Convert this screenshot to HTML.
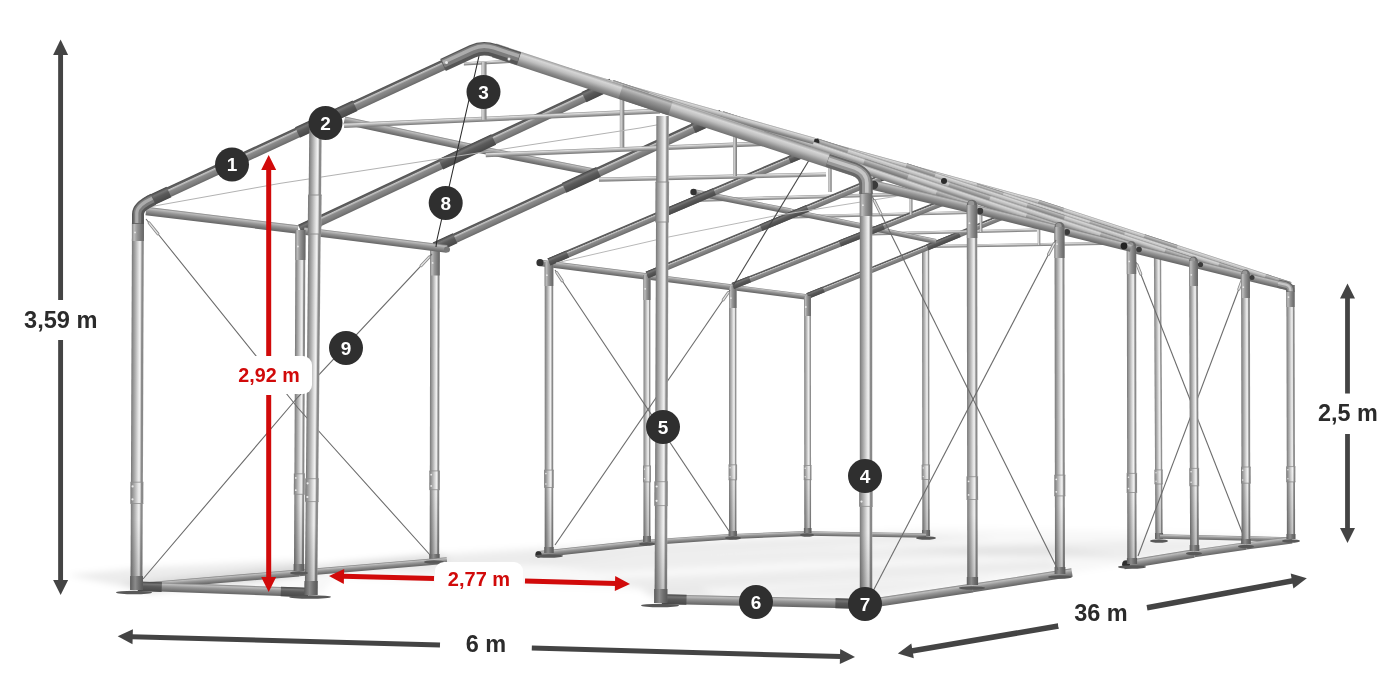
<!DOCTYPE html>
<html lang="pl"><head><meta charset="utf-8"><title>Wymiary hali namiotowej 6 m x 36 m</title>
<style>
html,body{margin:0;padding:0;background:#fff;}
body{width:1400px;height:700px;overflow:hidden;font-family:"Liberation Sans",Arial,sans-serif;}
svg{display:block}
svg text{font-family:"Liberation Sans",Arial,sans-serif;font-weight:700;}
</style></head><body>
<svg width="1400" height="700" viewBox="0 0 1400 700">
<defs>
<linearGradient id="g-post" x1="0" y1="0" x2="0" y2="1"><stop offset="0" stop-color="#767676"/><stop offset="0.12" stop-color="#8e8e8e"/><stop offset="0.35" stop-color="#b6b6b6"/><stop offset="0.55" stop-color="#dcdcdc"/><stop offset="0.68" stop-color="#f1f1f1"/><stop offset="0.76" stop-color="#d6d6d6"/><stop offset="0.84" stop-color="#8c8c8c"/><stop offset="0.94" stop-color="#888888"/><stop offset="1" stop-color="#a4a4a4"/></linearGradient>
<linearGradient id="g-postb" x1="0" y1="0" x2="0" y2="1"><stop offset="0" stop-color="#7e7e7e"/><stop offset="0.12" stop-color="#949494"/><stop offset="0.35" stop-color="#bababa"/><stop offset="0.55" stop-color="#dedede"/><stop offset="0.68" stop-color="#f2f2f2"/><stop offset="0.76" stop-color="#d8d8d8"/><stop offset="0.84" stop-color="#949494"/><stop offset="0.94" stop-color="#8e8e8e"/><stop offset="1" stop-color="#a8a8a8"/></linearGradient>
<linearGradient id="g-dark" x1="0" y1="0" x2="0" y2="1"><stop offset="0" stop-color="#505050"/><stop offset="0.2" stop-color="#646464"/><stop offset="0.28" stop-color="#c4c4c4"/><stop offset="0.37" stop-color="#b0b0b0"/><stop offset="0.46" stop-color="#8c8c8c"/><stop offset="0.8" stop-color="#7a7a7a"/><stop offset="1" stop-color="#686868"/></linearGradient>
<linearGradient id="g-mid" x1="0" y1="0" x2="0" y2="1"><stop offset="0" stop-color="#828282"/><stop offset="0.18" stop-color="#bcbcbc"/><stop offset="0.45" stop-color="#969696"/><stop offset="0.8" stop-color="#757575"/><stop offset="1" stop-color="#656565"/></linearGradient>
<linearGradient id="g-light" x1="0" y1="0" x2="0" y2="1"><stop offset="0" stop-color="#9a9a9a"/><stop offset="0.2" stop-color="#d6d6d6"/><stop offset="0.45" stop-color="#bebebe"/><stop offset="0.75" stop-color="#8e8e8e"/><stop offset="1" stop-color="#727272"/></linearGradient>
<linearGradient id="g-sleeve" x1="0" y1="0" x2="0" y2="1"><stop offset="0" stop-color="#444444"/><stop offset="0.25" stop-color="#747474"/><stop offset="0.5" stop-color="#5a5a5a"/><stop offset="1" stop-color="#484848"/></linearGradient>
<linearGradient id="g-foot" x1="0" y1="0" x2="0" y2="1"><stop offset="0" stop-color="#5c5c5c"/><stop offset="0.4" stop-color="#8c8c8c"/><stop offset="0.7" stop-color="#6e6e6e"/><stop offset="1" stop-color="#585858"/></linearGradient>
<linearGradient id="g-thin" x1="0" y1="0" x2="0" y2="1"><stop offset="0" stop-color="#929292"/><stop offset="0.25" stop-color="#dcdcdc"/><stop offset="0.55" stop-color="#b0b0b0"/><stop offset="0.85" stop-color="#868686"/><stop offset="1" stop-color="#787878"/></linearGradient>
<linearGradient id="g-shade" x1="0" y1="0" x2="1" y2="0"><stop offset="0" stop-color="#000" stop-opacity="0.2"/><stop offset="1" stop-color="#000" stop-opacity="0"/></linearGradient>
<filter id="blur" x="-5%" y="-20%" width="110%" height="140%"><feGaussianBlur stdDeviation="3"/></filter>
</defs>
<rect width="1400" height="700" fill="#fff"/>
<g id="frame">
<g filter="url(#blur)">
<polygon points="150,580 445,552 560,545 930,528 1170,532 1290,537 1075,572 870,603 665,603 640,590 335,578 320,596" fill="#000" opacity="0.028"/>
<polygon points="120,583 440,553 452,560 300,576 150,594" fill="#000" opacity="0.07"/>
<polygon points="68,575 140,568 300,560 300,576 150,592 120,586" fill="#000" opacity="0.075"/>
<polygon points="330,564 560,548 900,534 1000,538 640,556 420,573" fill="#000" opacity="0.05"/>
<polygon points="520,562 820,548 1050,546 1120,554 800,562 600,572" fill="#000" opacity="0.045"/>
<polygon points="600,580 900,566 1050,560 1060,570 900,578 660,592" fill="#000" opacity="0.05"/>
<polygon points="700,595 860,598 1000,577 900,580 800,586" fill="#000" opacity="0.04"/>
<polygon points="880,548 1150,540 1280,540 1130,560 1000,556" fill="#000" opacity="0.045"/>
<polygon points="640,590 700,588 720,598 660,602" fill="#000" opacity="0.05"/>
</g>
<rect x="0" y="-3.6" width="290" height="7.3" fill="url(#g-postb)" transform="translate(926,536) rotate(-90.08)"/>
<rect x="0" y="-4.2" width="14.5" height="8.3" fill="url(#g-postb)" transform="translate(925.9,479.5) rotate(-90.08)"/>
<line x1="921.8" y1="464.9" x2="930.1" y2="464.9" stroke="#8e8e8e" stroke-width="0.8" stroke-linecap="butt"/>
<line x1="921.8" y1="479.5" x2="930.1" y2="479.5" stroke="#8e8e8e" stroke-width="0.8" stroke-linecap="butt"/>
<circle cx="923.3" cy="467.9" r="0.7" fill="#e9e9e9"/>
<circle cx="923.3" cy="476.6" r="0.7" fill="#e9e9e9"/>
<rect x="0" y="-3.6" width="70" height="7.3" fill="url(#g-shade)" transform="translate(926,536) rotate(-90.08)"/>
<rect x="0" y="-4" width="6" height="8.1" fill="url(#g-foot)" transform="translate(926,536) rotate(-90.08)"/>
<rect x="0" y="-3.6" width="282" height="7.3" fill="url(#g-postb)" transform="translate(1159,539) rotate(-90.3)"/>
<rect x="0" y="-4.2" width="14.1" height="8.3" fill="url(#g-postb)" transform="translate(1158.7,484) rotate(-90.3)"/>
<line x1="1154.5" y1="469.9" x2="1162.8" y2="469.9" stroke="#8e8e8e" stroke-width="0.8" stroke-linecap="butt"/>
<line x1="1154.6" y1="484" x2="1162.9" y2="484" stroke="#8e8e8e" stroke-width="0.8" stroke-linecap="butt"/>
<circle cx="1156" cy="472.7" r="0.7" fill="#e9e9e9"/>
<circle cx="1156.1" cy="481.2" r="0.7" fill="#e9e9e9"/>
<rect x="0" y="-3.6" width="70" height="7.3" fill="url(#g-shade)" transform="translate(1159,539) rotate(-90.3)"/>
<rect x="0" y="-4" width="6" height="8.1" fill="url(#g-foot)" transform="translate(1159,539) rotate(-90.3)"/>
<rect x="0" y="-2.2" width="119" height="4.5" fill="url(#g-mid)" transform="translate(807,533.5) rotate(0.96)"/>
<rect x="0" y="-2.2" width="132" height="4.5" fill="url(#g-mid)" transform="translate(1160,536.5) rotate(1.3)"/>
<rect x="0" y="-1.5" width="205" height="3" fill="url(#g-thin)" transform="translate(925,246.5) rotate(-0.98)"/>
<rect x="0" y="-3" width="248.7" height="6" fill="url(#g-dark)" transform="translate(807.5,296) rotate(-22.08)"/>
<rect x="0" y="-3" width="17.4" height="6" fill="url(#g-sleeve)" transform="translate(807.5,296) rotate(-22.08)"/>
<rect x="0" y="-3" width="34.8" height="6" fill="url(#g-sleeve)" transform="translate(927.4,247.4) rotate(-22.08)"/>
<rect x="0" y="-3.2" width="110.7" height="6.4" fill="url(#g-mid)" transform="translate(537,554.5) rotate(-6.23)"/>
<circle cx="538.5" cy="554.3" r="3.1" fill="#2e2e2e"/>
<rect x="0" y="-2.8" width="86.2" height="5.6" fill="url(#g-mid)" transform="translate(647,542.5) rotate(-3.99)"/>
<rect x="0" y="-2.5" width="74.1" height="5" fill="url(#g-mid)" transform="translate(733,536.5) rotate(-2.32)"/>
<rect x="0" y="-3.2" width="106.9" height="6.5" fill="url(#g-mid)" transform="translate(541,263) rotate(7.26)"/>
<rect x="0" y="-3" width="86.7" height="6" fill="url(#g-mid)" transform="translate(647,276.5) rotate(7.29)"/>
<rect x="0" y="-2.8" width="74.6" height="5.5" fill="url(#g-mid)" transform="translate(733,287.5) rotate(7.32)"/>
<circle cx="540" cy="262.7" r="3.6" fill="#333"/>
<rect x="0" y="-1.7" width="207.1" height="3.4" fill="url(#g-thin)" transform="translate(700,200) rotate(-1.58)"/>
<rect x="0" y="-1.6" width="177.1" height="3.2" fill="url(#g-thin)" transform="translate(793,216.8) rotate(-1.39)"/>
<rect x="0" y="-1.5" width="169" height="3" fill="url(#g-thin)" transform="translate(868,234) rotate(-1.36)"/>
<rect x="0" y="-1.4" width="18" height="2.8" fill="url(#g-thin)" transform="translate(981,232) rotate(-90)"/>
<rect x="0" y="-1.3" width="16" height="2.6" fill="url(#g-thin)" transform="translate(1039,245) rotate(-90)"/>
<rect x="0" y="-3.4" width="237" height="6.8" fill="url(#g-postb)" transform="translate(807.7,533) rotate(-90.05)"/>
<rect x="0" y="-3.4" width="20" height="6.8" fill="url(#g-mid)" transform="translate(807.5,316) rotate(-90.05)"/>
<circle cx="805.8" cy="307" r="0.9" fill="#e9e9e9"/>
<rect x="0" y="-3.9" width="14.2" height="7.8" fill="url(#g-postb)" transform="translate(807.7,479.7) rotate(-90.05)"/>
<line x1="803.7" y1="465.5" x2="811.5" y2="465.5" stroke="#8e8e8e" stroke-width="0.8" stroke-linecap="butt"/>
<line x1="803.8" y1="479.7" x2="811.6" y2="479.7" stroke="#8e8e8e" stroke-width="0.8" stroke-linecap="butt"/>
<circle cx="805.2" cy="468.3" r="0.7" fill="#e9e9e9"/>
<circle cx="805.2" cy="476.8" r="0.7" fill="#e9e9e9"/>
<rect x="0" y="-3.4" width="70" height="6.8" fill="url(#g-shade)" transform="translate(807.7,533) rotate(-90.05)"/>
<rect x="0" y="-3.8" width="5" height="7.6" fill="url(#g-foot)" transform="translate(807.7,533) rotate(-90.05)"/>
<rect x="0" y="-3.8" width="250" height="7.5" fill="url(#g-postb)" transform="translate(732.8,536) rotate(-90)"/>
<rect x="0" y="-3.8" width="22" height="7.5" fill="url(#g-mid)" transform="translate(732.8,308) rotate(-90)"/>
<circle cx="730.9" cy="298.1" r="0.9" fill="#e9e9e9"/>
<rect x="0" y="-4.2" width="15" height="8.5" fill="url(#g-postb)" transform="translate(732.8,479.8) rotate(-90)"/>
<line x1="728.5" y1="464.8" x2="737" y2="464.8" stroke="#8e8e8e" stroke-width="0.8" stroke-linecap="butt"/>
<line x1="728.5" y1="479.8" x2="737" y2="479.8" stroke="#8e8e8e" stroke-width="0.8" stroke-linecap="butt"/>
<circle cx="730.1" cy="467.8" r="0.7" fill="#e9e9e9"/>
<circle cx="730.1" cy="476.8" r="0.7" fill="#e9e9e9"/>
<rect x="0" y="-3.8" width="70" height="7.5" fill="url(#g-shade)" transform="translate(732.8,536) rotate(-90)"/>
<rect x="0" y="-4.2" width="5" height="8.3" fill="url(#g-foot)" transform="translate(732.8,536) rotate(-90)"/>
<rect x="0" y="-3.5" width="267" height="7" fill="url(#g-postb)" transform="translate(647,542) rotate(-90)"/>
<rect x="0" y="-3.5" width="25" height="7" fill="url(#g-mid)" transform="translate(647,300) rotate(-90)"/>
<circle cx="645.2" cy="288.8" r="0.9" fill="#e9e9e9"/>
<rect x="0" y="-4" width="16" height="8" fill="url(#g-postb)" transform="translate(647,481.9) rotate(-90)"/>
<line x1="643" y1="465.9" x2="651" y2="465.9" stroke="#8e8e8e" stroke-width="0.8" stroke-linecap="butt"/>
<line x1="643" y1="481.9" x2="651" y2="481.9" stroke="#8e8e8e" stroke-width="0.8" stroke-linecap="butt"/>
<circle cx="644.5" cy="469.1" r="0.7" fill="#e9e9e9"/>
<circle cx="644.5" cy="478.7" r="0.7" fill="#e9e9e9"/>
<rect x="0" y="-3.5" width="70" height="7" fill="url(#g-shade)" transform="translate(647,542) rotate(-90)"/>
<rect x="0" y="-3.9" width="6" height="7.8" fill="url(#g-foot)" transform="translate(647,542) rotate(-90)"/>
<rect x="0" y="-4.3" width="291" height="8.6" fill="url(#g-post)" transform="translate(549,553) rotate(-90)"/>
<rect x="0" y="-4.3" width="24" height="8.6" fill="url(#g-mid)" transform="translate(549,286) rotate(-90)"/>
<circle cx="546.9" cy="275.2" r="0.9" fill="#e9e9e9"/>
<rect x="0" y="-4.8" width="17.5" height="9.6" fill="url(#g-post)" transform="translate(549,487.5) rotate(-90)"/>
<line x1="544.2" y1="470.1" x2="553.8" y2="470.1" stroke="#8e8e8e" stroke-width="0.8" stroke-linecap="butt"/>
<line x1="544.2" y1="487.5" x2="553.8" y2="487.5" stroke="#8e8e8e" stroke-width="0.8" stroke-linecap="butt"/>
<circle cx="545.9" cy="473.6" r="0.8" fill="#e9e9e9"/>
<circle cx="545.9" cy="484" r="0.8" fill="#e9e9e9"/>
<rect x="0" y="-4.3" width="70" height="8.6" fill="url(#g-shade)" transform="translate(549,553) rotate(-90)"/>
<rect x="0" y="-4.7" width="6" height="9.4" fill="url(#g-foot)" transform="translate(549,553) rotate(-90)"/>
<rect x="0" y="-3" width="99.9" height="6" fill="url(#g-mid)" transform="translate(693,192) rotate(11.25)"/>
<rect x="0" y="-2.8" width="76.6" height="5.5" fill="url(#g-mid)" transform="translate(791,211.5) rotate(11.68)"/>
<rect x="0" y="-2.5" width="71.5" height="5" fill="url(#g-mid)" transform="translate(866,227) rotate(11.7)"/>
<circle cx="693.5" cy="192" r="3.2" fill="#333"/>
<rect x="0" y="-3.2" width="261.6" height="6.5" fill="url(#g-dark)" transform="translate(732.8,286) rotate(-21.64)"/>
<rect x="0" y="-3.2" width="18.3" height="6.5" fill="url(#g-sleeve)" transform="translate(732.8,286) rotate(-21.64)"/>
<rect x="0" y="-3.2" width="47.1" height="6.5" fill="url(#g-sleeve)" transform="translate(839.8,243.5) rotate(-21.64)"/>
<rect x="0" y="-3.2" width="26.2" height="6.5" fill="url(#g-sleeve)" transform="translate(951.7,199.1) rotate(-21.64)"/>
<rect x="0" y="-3.5" width="280.4" height="7" fill="url(#g-dark)" transform="translate(647,275) rotate(-22.54)"/>
<rect x="0" y="-3.5" width="19.6" height="7" fill="url(#g-sleeve)" transform="translate(647,275) rotate(-22.54)"/>
<rect x="0" y="-3.5" width="50.5" height="7" fill="url(#g-sleeve)" transform="translate(761,227.7) rotate(-22.54)"/>
<rect x="0" y="-3.5" width="28" height="7" fill="url(#g-sleeve)" transform="translate(880.1,178.2) rotate(-22.54)"/>
<rect x="0" y="-3.8" width="290.1" height="7.5" fill="url(#g-dark)" transform="translate(549,262) rotate(-23.03)"/>
<rect x="0" y="-3.8" width="20.3" height="7.5" fill="url(#g-sleeve)" transform="translate(549,262) rotate(-23.03)"/>
<rect x="0" y="-3.8" width="52.2" height="7.5" fill="url(#g-sleeve)" transform="translate(666.5,212.1) rotate(-23.03)"/>
<rect x="0" y="-3.8" width="29" height="7.5" fill="url(#g-sleeve)" transform="translate(789.3,159.8) rotate(-23.03)"/>
<polyline points="555,270 729,531" fill="none" stroke="#6c6c6c" stroke-width="1.1"/>
<polyline points="730,290 555,545" fill="none" stroke="#6c6c6c" stroke-width="1.1"/>
<line x1="556.7" y1="272.5" x2="562.2" y2="280.8" stroke="#8a8a8a" stroke-width="3" stroke-linecap="round"/>
<line x1="556.7" y1="272.5" x2="562.2" y2="280.8" stroke="#e4e4e4" stroke-width="1.3" stroke-linecap="round"/>
<line x1="728.3" y1="292.5" x2="723.2" y2="299.9" stroke="#8a8a8a" stroke-width="3" stroke-linecap="round"/>
<line x1="728.3" y1="292.5" x2="723.2" y2="299.9" stroke="#e4e4e4" stroke-width="1.3" stroke-linecap="round"/>
<rect x="0" y="-4" width="134.1" height="8" fill="url(#g-mid)" transform="translate(344.3,120.4) rotate(12.18)"/>
<rect x="0" y="-3.7" width="125.9" height="7.4" fill="url(#g-mid)" transform="translate(475.4,148.7) rotate(11.18)"/>
<rect x="0" y="-4.9" width="316.1" height="9.8" fill="url(#g-dark)" transform="translate(435,247.5) rotate(-24.78)"/>
<rect x="0" y="-5.4" width="22.1" height="10.8" fill="url(#g-sleeve)" transform="translate(435,247.5) rotate(-24.78)"/>
<rect x="0" y="-5.4" width="37.9" height="10.8" fill="url(#g-sleeve)" transform="translate(564.1,187.9) rotate(-24.78)"/>
<rect x="0" y="-5.4" width="31.6" height="10.8" fill="url(#g-sleeve)" transform="translate(693.3,128.2) rotate(-24.78)"/>
<rect x="0" y="-4.8" width="312.5" height="9.5" fill="url(#g-post)" transform="translate(434.5,560) rotate(-89.91)"/>
<rect x="0" y="-4.8" width="28" height="9.5" fill="url(#g-mid)" transform="translate(435,275.5) rotate(-89.91)"/>
<circle cx="432.6" cy="262.9" r="0.9" fill="#e9e9e9"/>
<rect x="0" y="-5.2" width="18.8" height="10.5" fill="url(#g-post)" transform="translate(434.6,489.7) rotate(-89.91)"/>
<line x1="429.4" y1="470.9" x2="439.9" y2="470.9" stroke="#8e8e8e" stroke-width="0.8" stroke-linecap="butt"/>
<line x1="429.4" y1="489.7" x2="439.9" y2="489.7" stroke="#8e8e8e" stroke-width="0.8" stroke-linecap="butt"/>
<circle cx="431.2" cy="474.7" r="0.9" fill="#e9e9e9"/>
<circle cx="431.2" cy="485.9" r="0.9" fill="#e9e9e9"/>
<rect x="0" y="-4.8" width="70" height="9.5" fill="url(#g-shade)" transform="translate(434.5,560) rotate(-89.91)"/>
<rect x="0" y="-5.2" width="6" height="10.3" fill="url(#g-foot)" transform="translate(434.5,560) rotate(-89.91)"/>
<rect x="0" y="-5.2" width="344" height="10.4" fill="url(#g-dark)" transform="translate(300.5,230) rotate(-25.11)"/>
<rect x="0" y="-5.7" width="20.6" height="11.4" fill="url(#g-sleeve)" transform="translate(300.5,230) rotate(-25.11)"/>
<rect x="0" y="-5.7" width="58.5" height="11.4" fill="url(#g-sleeve)" transform="translate(440.7,164.3) rotate(-25.11)"/>
<rect x="0" y="-5.7" width="31" height="11.4" fill="url(#g-sleeve)" transform="translate(584,97.1) rotate(-25.11)"/>
<rect x="0" y="-4.2" width="153.1" height="8.4" fill="url(#g-mid)" transform="translate(146,211) rotate(6.94)"/>
<rect x="0" y="-3.9" width="144.1" height="7.8" fill="url(#g-mid)" transform="translate(304,231) rotate(7.17)"/>
<circle cx="447" cy="249.5" r="3" fill="#777"/>
<rect x="0" y="-3.5" width="161.6" height="7" fill="url(#g-mid)" transform="translate(138,586.5) rotate(-4.79)"/>
<rect x="0" y="-3.2" width="148.5" height="6.5" fill="url(#g-mid)" transform="translate(299,573) rotate(-4.83)"/>
<rect x="0" y="-5" width="341" height="10" fill="url(#g-post)" transform="translate(299,571) rotate(-89.75)"/>
<rect x="0" y="-5" width="30" height="10" fill="url(#g-mid)" transform="translate(300.4,260) rotate(-89.75)"/>
<circle cx="297.9" cy="246.5" r="0.9" fill="#e9e9e9"/>
<rect x="0" y="-5.5" width="20.5" height="11" fill="url(#g-post)" transform="translate(299.3,494.3) rotate(-89.75)"/>
<line x1="293.9" y1="473.8" x2="304.9" y2="473.8" stroke="#8e8e8e" stroke-width="0.8" stroke-linecap="butt"/>
<line x1="293.8" y1="494.3" x2="304.8" y2="494.3" stroke="#8e8e8e" stroke-width="0.8" stroke-linecap="butt"/>
<circle cx="295.8" cy="477.9" r="0.9" fill="#e9e9e9"/>
<circle cx="295.8" cy="490.2" r="0.9" fill="#e9e9e9"/>
<rect x="0" y="-5" width="70" height="10" fill="url(#g-shade)" transform="translate(299,571) rotate(-89.75)"/>
<rect x="0" y="-5.4" width="7" height="10.8" fill="url(#g-foot)" transform="translate(299,571) rotate(-89.75)"/>
<polyline points="146,219 298,408 431,556" fill="none" stroke="#6c6c6c" stroke-width="1.1"/>
<polyline points="432,254 298,397 143,579" fill="none" stroke="#6c6c6c" stroke-width="1.1"/>
<line x1="149.1" y1="222.9" x2="157.9" y2="233.8" stroke="#8a8a8a" stroke-width="3" stroke-linecap="round"/>
<line x1="149.1" y1="222.9" x2="157.9" y2="233.8" stroke="#e4e4e4" stroke-width="1.3" stroke-linecap="round"/>
<line x1="429.3" y1="256.9" x2="421.1" y2="265.7" stroke="#8a8a8a" stroke-width="3" stroke-linecap="round"/>
<line x1="429.3" y1="256.9" x2="421.1" y2="265.7" stroke="#e4e4e4" stroke-width="1.3" stroke-linecap="round"/>
<rect x="0" y="-2.5" width="316.3" height="5" fill="url(#g-thin)" transform="translate(344,125.6) rotate(-2.65)"/>
<rect x="0" y="-2.3" width="304.6" height="4.6" fill="url(#g-thin)" transform="translate(485.7,155) rotate(-2.35)"/>
<rect x="0" y="-2.1" width="227.2" height="4.2" fill="url(#g-thin)" transform="translate(598.9,179.6) rotate(-1.29)"/>
<rect x="0" y="-1.6" width="46.3" height="3.2" fill="url(#g-thin)" transform="translate(463.8,63.8) rotate(-3.09)"/>
<rect x="0" y="-2.5" width="57.7" height="5" fill="url(#g-thin)" transform="translate(484,119.7) rotate(-90)"/>
<rect x="0" y="-2.2" width="49.4" height="4.5" fill="url(#g-thin)" transform="translate(622,147.4) rotate(-90)"/>
<rect x="0" y="-2" width="44" height="4" fill="url(#g-thin)" transform="translate(735,176) rotate(-90)"/>
<rect x="0" y="-1.8" width="32" height="3.5" fill="url(#g-thin)" transform="translate(830,192) rotate(-90)"/>
<rect x="0" y="-1.5" width="32" height="3" fill="url(#g-thin)" transform="translate(911,215) rotate(-90)"/>
<polyline points="146,207.5 280,183.4 640,128 662,124" fill="none" stroke="#b2b2b2" stroke-width="1"/>
<polyline points="556,263 668.6,237 775.7,215.7 895.7,196.4" fill="none" stroke="#b8b8b8" stroke-width="1"/>
<polyline points="479,56 436.9,240 436,247" fill="none" stroke="#2c2c2c" stroke-width="1.1"/>
<polyline points="814,152 733.5,285" fill="none" stroke="#4a4a4a" stroke-width="1.1"/>
<rect x="0" y="-4.2" width="70.9" height="8.4" fill="url(#g-mid)" transform="translate(1124,565) rotate(-9.33)"/>
<rect x="0" y="-3.9" width="52.5" height="7.8" fill="url(#g-mid)" transform="translate(1194,553.5) rotate(-8.21)"/>
<rect x="0" y="-3.6" width="46.4" height="7.2" fill="url(#g-mid)" transform="translate(1246,546) rotate(-7.43)"/>
<circle cx="1126" cy="564.3" r="3.9" fill="#2e2e2e"/>
<polyline points="1136,262 1246,542" fill="none" stroke="#6c6c6c" stroke-width="1.1"/>
<polyline points="1243,278 1138,556" fill="none" stroke="#6c6c6c" stroke-width="1.1"/>
<line x1="1137.1" y1="264.8" x2="1140.8" y2="274.1" stroke="#8a8a8a" stroke-width="3" stroke-linecap="round"/>
<line x1="1137.1" y1="264.8" x2="1140.8" y2="274.1" stroke="#e4e4e4" stroke-width="1.3" stroke-linecap="round"/>
<line x1="1241.9" y1="280.8" x2="1238.8" y2="289.2" stroke="#8a8a8a" stroke-width="3" stroke-linecap="round"/>
<line x1="1241.9" y1="280.8" x2="1238.8" y2="289.2" stroke="#e4e4e4" stroke-width="1.3" stroke-linecap="round"/>
<rect x="0" y="-3" width="265.6" height="6" fill="url(#g-light)" transform="translate(1038,202.5) rotate(18.09)"/>
<rect x="0" y="-3" width="26.6" height="6" fill="url(#g-mid)" transform="translate(1038,202.5) rotate(18.09)"/>
<rect x="0" y="-3" width="34.5" height="6" fill="url(#g-mid)" transform="translate(1144,237.2) rotate(18.09)"/>
<rect x="0" y="-3" width="26.6" height="6" fill="url(#g-mid)" transform="translate(1265.2,276.8) rotate(18.09)"/>
<rect x="0" y="-3" width="230.1" height="6" fill="url(#g-light)" transform="translate(816,142) rotate(15.24)"/>
<rect x="0" y="-3.2" width="283.3" height="6.5" fill="url(#g-light)" transform="translate(976,186.5) rotate(17.99)"/>
<rect x="0" y="-3.2" width="28.3" height="6.5" fill="url(#g-mid)" transform="translate(976,186.5) rotate(17.99)"/>
<rect x="0" y="-3.2" width="36.8" height="6.5" fill="url(#g-mid)" transform="translate(1089.2,223.2) rotate(17.99)"/>
<rect x="0" y="-3.2" width="28.3" height="6.5" fill="url(#g-mid)" transform="translate(1218.5,265.2) rotate(17.99)"/>
<rect x="0" y="-3.5" width="302.6" height="7" fill="url(#g-light)" transform="translate(906,166.5) rotate(18.2)"/>
<rect x="0" y="-3.5" width="30.3" height="7" fill="url(#g-mid)" transform="translate(906,166.5) rotate(18.2)"/>
<rect x="0" y="-3.5" width="39.3" height="7" fill="url(#g-mid)" transform="translate(1026.8,206.2) rotate(18.2)"/>
<rect x="0" y="-3.5" width="30.3" height="7" fill="url(#g-mid)" transform="translate(1164.8,251.6) rotate(18.2)"/>
<rect x="0" y="-4" width="332.2" height="8" fill="url(#g-light)" transform="translate(816,142) rotate(18.24)"/>
<rect x="0" y="-4" width="33.2" height="8" fill="url(#g-mid)" transform="translate(816,142) rotate(18.24)"/>
<rect x="0" y="-4" width="43.2" height="8" fill="url(#g-mid)" transform="translate(948.5,185.7) rotate(18.24)"/>
<rect x="0" y="-4" width="33.2" height="8" fill="url(#g-mid)" transform="translate(1100,235.6) rotate(18.24)"/>
<circle cx="816" cy="142" r="3.4" fill="#2b2b2b"/>
<circle cx="944" cy="181" r="3" fill="#2b2b2b"/>
<rect x="0" y="-4.2" width="62.8" height="8.4" fill="url(#g-mid)" transform="translate(1131.5,248.5) rotate(13.82)"/>
<rect x="0" y="-3.9" width="54.1" height="7.8" fill="url(#g-mid)" transform="translate(1192.5,263.5) rotate(13.91)"/>
<rect x="0" y="-3.7" width="45.2" height="7.4" fill="url(#g-mid)" transform="translate(1245,276.5) rotate(13.42)"/>
<rect x="0" y="-4.1" width="254" height="8.2" fill="url(#g-post)" transform="translate(1291,539) rotate(-90.11)"/>
<rect x="0" y="-4.1" width="22" height="8.2" fill="url(#g-mid)" transform="translate(1290.5,307) rotate(-90.11)"/>
<circle cx="1288.5" cy="297.1" r="0.9" fill="#e9e9e9"/>
<rect x="0" y="-4.6" width="15.2" height="9.2" fill="url(#g-post)" transform="translate(1290.9,481.9) rotate(-90.11)"/>
<line x1="1286.3" y1="466.6" x2="1295.5" y2="466.6" stroke="#8e8e8e" stroke-width="0.8" stroke-linecap="butt"/>
<line x1="1286.3" y1="481.9" x2="1295.5" y2="481.9" stroke="#8e8e8e" stroke-width="0.8" stroke-linecap="butt"/>
<circle cx="1287.9" cy="469.7" r="0.7" fill="#e9e9e9"/>
<circle cx="1287.9" cy="478.8" r="0.7" fill="#e9e9e9"/>
<rect x="0" y="-4.1" width="70" height="8.2" fill="url(#g-shade)" transform="translate(1291,539) rotate(-90.11)"/>
<rect x="0" y="-4.5" width="5" height="9" fill="url(#g-foot)" transform="translate(1291,539) rotate(-90.11)"/>
<rect x="0" y="-4.4" width="270" height="8.8" fill="url(#g-post)" transform="translate(1246,544) rotate(-90.11)"/>
<circle cx="1245.5" cy="274" r="4.4" fill="#686868"/>
<circle cx="1244.8" cy="273.1" r="2.6" fill="#979797"/>
<rect x="0" y="-4.4" width="24" height="8.8" fill="url(#g-mid)" transform="translate(1245.5,298) rotate(-90.11)"/>
<circle cx="1243.3" cy="287.2" r="0.9" fill="#e9e9e9"/>
<rect x="0" y="-4.9" width="16.2" height="9.8" fill="url(#g-post)" transform="translate(1245.9,483.2) rotate(-90.11)"/>
<line x1="1241" y1="467" x2="1250.8" y2="467" stroke="#8e8e8e" stroke-width="0.8" stroke-linecap="butt"/>
<line x1="1241" y1="483.2" x2="1250.8" y2="483.2" stroke="#8e8e8e" stroke-width="0.8" stroke-linecap="butt"/>
<circle cx="1242.7" cy="470.3" r="0.8" fill="#e9e9e9"/>
<circle cx="1242.7" cy="480" r="0.8" fill="#e9e9e9"/>
<rect x="0" y="-4.4" width="70" height="8.8" fill="url(#g-shade)" transform="translate(1246,544) rotate(-90.11)"/>
<rect x="0" y="-4.8" width="5" height="9.6" fill="url(#g-foot)" transform="translate(1246,544) rotate(-90.11)"/>
<rect x="0" y="-4.4" width="290" height="8.8" fill="url(#g-post)" transform="translate(1194.5,551) rotate(-90.2)"/>
<circle cx="1193.5" cy="261" r="4.4" fill="#686868"/>
<circle cx="1192.8" cy="260.1" r="2.6" fill="#979797"/>
<rect x="0" y="-4.4" width="25" height="8.8" fill="url(#g-mid)" transform="translate(1193.6,286) rotate(-90.2)"/>
<circle cx="1191.3" cy="274.8" r="0.9" fill="#e9e9e9"/>
<rect x="0" y="-4.9" width="17.4" height="9.8" fill="url(#g-post)" transform="translate(1194.3,485.8) rotate(-90.2)"/>
<line x1="1189.3" y1="468.4" x2="1199.1" y2="468.4" stroke="#8e8e8e" stroke-width="0.8" stroke-linecap="butt"/>
<line x1="1189.4" y1="485.8" x2="1199.2" y2="485.8" stroke="#8e8e8e" stroke-width="0.8" stroke-linecap="butt"/>
<circle cx="1191.1" cy="471.8" r="0.8" fill="#e9e9e9"/>
<circle cx="1191.1" cy="482.3" r="0.8" fill="#e9e9e9"/>
<rect x="0" y="-4.4" width="70" height="8.8" fill="url(#g-shade)" transform="translate(1194.5,551) rotate(-90.2)"/>
<rect x="0" y="-4.8" width="6" height="9.6" fill="url(#g-foot)" transform="translate(1194.5,551) rotate(-90.2)"/>
<rect x="0" y="-4.7" width="318" height="9.4" fill="url(#g-post)" transform="translate(1132,564) rotate(-90.09)"/>
<circle cx="1131.5" cy="246" r="4.7" fill="#686868"/>
<circle cx="1130.7" cy="245.1" r="2.8" fill="#979797"/>
<rect x="0" y="-4.7" width="28" height="9.4" fill="url(#g-mid)" transform="translate(1131.5,274) rotate(-90.09)"/>
<circle cx="1129.2" cy="261.4" r="0.9" fill="#e9e9e9"/>
<rect x="0" y="-5.2" width="19.1" height="10.4" fill="url(#g-post)" transform="translate(1131.9,492.5) rotate(-90.09)"/>
<line x1="1126.7" y1="473.4" x2="1137.1" y2="473.4" stroke="#8e8e8e" stroke-width="0.8" stroke-linecap="butt"/>
<line x1="1126.7" y1="492.5" x2="1137.1" y2="492.5" stroke="#8e8e8e" stroke-width="0.8" stroke-linecap="butt"/>
<circle cx="1128.5" cy="477.2" r="0.8" fill="#e9e9e9"/>
<circle cx="1128.5" cy="488.6" r="0.8" fill="#e9e9e9"/>
<rect x="0" y="-4.7" width="70" height="9.4" fill="url(#g-shade)" transform="translate(1132,564) rotate(-90.09)"/>
<rect x="0" y="-5.1" width="6" height="10.2" fill="url(#g-foot)" transform="translate(1132,564) rotate(-90.09)"/>
<circle cx="1139" cy="249.5" r="2.8" fill="#3a3a3a"/>
<circle cx="1200.5" cy="264.5" r="2.6" fill="#3a3a3a"/>
<circle cx="1252" cy="277.5" r="2.5" fill="#3a3a3a"/>
<path d="M1278,283.6 L1286,285.4 Q1290.5,286.6 1290.5,292" fill="none" stroke="#686868" stroke-width="8.4" stroke-linecap="butt" stroke-linejoin="round"/>
<path d="M1278,283.6 L1286,285.4 Q1290.5,286.6 1290.5,292" fill="none" stroke="#979797" stroke-width="5.4" stroke-linecap="butt" stroke-linejoin="round" transform="translate(0,-0.4)"/>
<path d="M1278,283.6 L1286,285.4 Q1290.5,286.6 1290.5,292" fill="none" stroke="#c6c6c6" stroke-width="2.3" stroke-linecap="butt" stroke-linejoin="round" transform="translate(0,-0.8)"/>
<rect x="0" y="-4" width="355.9" height="8" fill="url(#g-light)" transform="translate(722,115) rotate(18.51)"/>
<rect x="0" y="-4" width="35.6" height="8" fill="url(#g-mid)" transform="translate(722,115) rotate(18.51)"/>
<rect x="0" y="-4" width="46.3" height="8" fill="url(#g-mid)" transform="translate(863.8,162.5) rotate(18.51)"/>
<rect x="0" y="-4" width="35.6" height="8" fill="url(#g-mid)" transform="translate(1025.8,216.7) rotate(18.51)"/>
<rect x="0" y="-3.5" width="134.7" height="7" fill="url(#g-light)" transform="translate(482.6,46.6) rotate(16.12)"/>
<rect x="0" y="-3.5" width="114.3" height="7" fill="url(#g-light)" transform="translate(612,84) rotate(15.74)"/>
<rect x="0" y="-3.5" width="95.6" height="7" fill="url(#g-light)" transform="translate(722,115) rotate(15.78)"/>
<rect x="0" y="-4.2" width="380.1" height="8.5" fill="url(#g-light)" transform="translate(612,84) rotate(18.72)"/>
<rect x="0" y="-4.2" width="38" height="8.5" fill="url(#g-mid)" transform="translate(612,84) rotate(18.72)"/>
<rect x="0" y="-4.2" width="49.4" height="8.5" fill="url(#g-mid)" transform="translate(763.2,135.2) rotate(18.72)"/>
<rect x="0" y="-4.2" width="38" height="8.5" fill="url(#g-mid)" transform="translate(936,193.8) rotate(18.72)"/>
<rect x="0" y="-5" width="101.8" height="10" fill="url(#g-mid)" transform="translate(873,185) rotate(13.35)"/>
<rect x="0" y="-4.5" width="90.1" height="9" fill="url(#g-mid)" transform="translate(972,208.5) rotate(13.8)"/>
<rect x="0" y="-4" width="73.7" height="8" fill="url(#g-mid)" transform="translate(1059.5,230) rotate(14.13)"/>
<circle cx="874" cy="185" r="4.2" fill="#3a3a3a"/>
<circle cx="980" cy="211" r="3.2" fill="#3a3a3a"/>
<circle cx="1067" cy="232" r="3" fill="#3a3a3a"/>
<circle cx="1124" cy="246" r="3.4" fill="#222"/>
<rect x="0" y="-4.5" width="107.7" height="9" fill="url(#g-mid)" transform="translate(866,604) rotate(-8.54)"/>
<rect x="0" y="-4.2" width="100.7" height="8.5" fill="url(#g-mid)" transform="translate(972.5,588) rotate(-8.85)"/>
<rect x="0" y="-5" width="347" height="10" fill="url(#g-post)" transform="translate(1060,574) rotate(-90.08)"/>
<circle cx="1059.5" cy="227" r="5" fill="#686868"/>
<circle cx="1058.7" cy="226" r="3" fill="#979797"/>
<rect x="0" y="-5" width="31" height="10" fill="url(#g-mid)" transform="translate(1059.5,258) rotate(-90.08)"/>
<circle cx="1057" cy="244.1" r="0.9" fill="#e9e9e9"/>
<rect x="0" y="-5.5" width="20.8" height="11" fill="url(#g-post)" transform="translate(1059.9,495.9) rotate(-90.08)"/>
<line x1="1054.4" y1="475.1" x2="1065.4" y2="475.1" stroke="#8e8e8e" stroke-width="0.8" stroke-linecap="butt"/>
<line x1="1054.4" y1="495.9" x2="1065.4" y2="495.9" stroke="#8e8e8e" stroke-width="0.8" stroke-linecap="butt"/>
<circle cx="1056.3" cy="479.3" r="0.9" fill="#e9e9e9"/>
<circle cx="1056.3" cy="491.8" r="0.9" fill="#e9e9e9"/>
<rect x="0" y="-5" width="70" height="10" fill="url(#g-shade)" transform="translate(1060,574) rotate(-90.08)"/>
<rect x="0" y="-5.4" width="7" height="10.8" fill="url(#g-foot)" transform="translate(1060,574) rotate(-90.08)"/>
<rect x="0" y="-5.2" width="380" height="10.5" fill="url(#g-post)" transform="translate(972.5,585) rotate(-90.08)"/>
<circle cx="972" cy="205" r="5.2" fill="#686868"/>
<circle cx="971.2" cy="203.9" r="3.1" fill="#979797"/>
<rect x="0" y="-5.2" width="33" height="10.5" fill="url(#g-mid)" transform="translate(972,238) rotate(-90.08)"/>
<circle cx="969.4" cy="223.2" r="0.9" fill="#e9e9e9"/>
<rect x="0" y="-5.8" width="22.8" height="11.5" fill="url(#g-post)" transform="translate(972.4,499.5) rotate(-90.08)"/>
<line x1="966.6" y1="476.7" x2="978.1" y2="476.7" stroke="#8e8e8e" stroke-width="0.8" stroke-linecap="butt"/>
<line x1="966.6" y1="499.5" x2="978.1" y2="499.5" stroke="#8e8e8e" stroke-width="0.8" stroke-linecap="butt"/>
<circle cx="968.6" cy="481.3" r="0.9" fill="#e9e9e9"/>
<circle cx="968.6" cy="494.9" r="0.9" fill="#e9e9e9"/>
<rect x="0" y="-5.2" width="70" height="10.5" fill="url(#g-shade)" transform="translate(972.5,585) rotate(-90.08)"/>
<rect x="0" y="-5.7" width="8" height="11.3" fill="url(#g-foot)" transform="translate(972.5,585) rotate(-90.08)"/>
<polyline points="872,196 1058,570" fill="none" stroke="#6c6c6c" stroke-width="1.1"/>
<polyline points="1056,240 870,597" fill="none" stroke="#6c6c6c" stroke-width="1.1"/>
<line x1="874.2" y1="200.5" x2="880.9" y2="213.9" stroke="#8a8a8a" stroke-width="3" stroke-linecap="round"/>
<line x1="874.2" y1="200.5" x2="880.9" y2="213.9" stroke="#e4e4e4" stroke-width="1.3" stroke-linecap="round"/>
<line x1="1054.2" y1="243.5" x2="1048.6" y2="254.2" stroke="#8a8a8a" stroke-width="3" stroke-linecap="round"/>
<line x1="1054.2" y1="243.5" x2="1048.6" y2="254.2" stroke="#e4e4e4" stroke-width="1.3" stroke-linecap="round"/>
<rect x="0" y="-5.2" width="362.8" height="10.5" fill="url(#g-dark)" transform="translate(144.9,203.3) rotate(-24.89)"/>
<rect x="0" y="-5.8" width="22.8" height="11.5" fill="url(#g-sleeve)" transform="translate(148.3,201.7) rotate(-24.89)"/>
<rect x="0" y="-5.8" width="63.4" height="11.5" fill="url(#g-sleeve)" transform="translate(297.5,132.5) rotate(-24.89)"/>
<rect x="0" y="-7.2" width="381.5" height="14.3" fill="url(#g-light)" transform="translate(494.1,50.4) rotate(18.25)"/>
<rect x="0" y="-7.2" width="52.5" height="14.3" fill="url(#g-mid)" transform="translate(620.6,92.1) rotate(18.25)"/>
<path d="M443,65 L472.3,51.4 Q482.6,46.6 494.1,50.4 L519,58.6" fill="none" stroke="#565656" stroke-width="13.4" stroke-linecap="butt" stroke-linejoin="round"/>
<path d="M443,65 L472.3,51.4 Q482.6,46.6 494.1,50.4 L519,58.6" fill="none" stroke="#7c7c7c" stroke-width="8.6" stroke-linecap="butt" stroke-linejoin="round" transform="translate(0,-1.3)"/>
<path d="M443,65 L472.3,51.4 Q482.6,46.6 494.1,50.4 L519,58.6" fill="none" stroke="#acacac" stroke-width="3.6" stroke-linecap="butt" stroke-linejoin="round" transform="translate(0,-2.6)"/>
<circle cx="446.5" cy="62.5" r="1.5" fill="#e9e9e9"/>
<circle cx="509" cy="59" r="1.5" fill="#e9e9e9"/>
<rect x="0" y="-4.5" width="170.1" height="9" fill="url(#g-mid)" transform="translate(138,586.2) rotate(2.12)"/>
<rect x="0" y="-4.8" width="204.1" height="9.5" fill="url(#g-mid)" transform="translate(662,599.2) rotate(1.35)"/>
<rect x="0" y="-4.8" width="23.8" height="9.6" fill="url(#g-sleeve)" transform="translate(138,586.2) rotate(2.12)"/>
<rect x="0" y="-4.8" width="27.2" height="9.6" fill="url(#g-sleeve)" transform="translate(280.8,591.5) rotate(2.12)"/>
<rect x="0" y="-5" width="24.5" height="10" fill="url(#g-sleeve)" transform="translate(662,599.2) rotate(1.35)"/>
<rect x="0" y="-5" width="30.6" height="10" fill="url(#g-sleeve)" transform="translate(835.4,603.3) rotate(1.35)"/>
<rect x="0" y="-6.2" width="467" height="12.5" fill="url(#g-post)" transform="translate(311,595) rotate(-89.45)"/>
<rect x="0" y="-6.8" width="22.9" height="13.5" fill="url(#g-post)" transform="translate(311.9,501.6) rotate(-89.45)"/>
<line x1="305.4" y1="478.7" x2="318.9" y2="478.7" stroke="#8e8e8e" stroke-width="0.8" stroke-linecap="butt"/>
<line x1="305.1" y1="501.6" x2="318.6" y2="501.6" stroke="#8e8e8e" stroke-width="0.8" stroke-linecap="butt"/>
<circle cx="307.6" cy="483.3" r="1.1" fill="#e9e9e9"/>
<circle cx="307.4" cy="497" r="1.1" fill="#e9e9e9"/>
<rect x="0" y="-6.2" width="70" height="12.5" fill="url(#g-shade)" transform="translate(311,595) rotate(-89.45)"/>
<rect x="0" y="-6.7" width="14" height="13.3" fill="url(#g-foot)" transform="translate(311,595) rotate(-89.45)"/>
<rect x="0" y="-6.8" width="39" height="13.6" fill="url(#g-post)" transform="translate(314.5,234) rotate(-89.41)"/>
<line x1="308" y1="195" x2="321.8" y2="195" stroke="#8a8a8a" stroke-width="0.9" stroke-linecap="butt"/>
<line x1="307.6" y1="234" x2="321.4" y2="234" stroke="#8a8a8a" stroke-width="0.9" stroke-linecap="butt"/>
<rect x="0" y="-6.2" width="487" height="12.5" fill="url(#g-post)" transform="translate(660.8,603) rotate(-89.79)"/>
<rect x="0" y="-6.8" width="23.9" height="13.5" fill="url(#g-post)" transform="translate(661.1,505.6) rotate(-89.79)"/>
<line x1="654.4" y1="481.7" x2="667.9" y2="481.7" stroke="#8e8e8e" stroke-width="0.8" stroke-linecap="butt"/>
<line x1="654.4" y1="505.6" x2="667.9" y2="505.6" stroke="#8e8e8e" stroke-width="0.8" stroke-linecap="butt"/>
<circle cx="656.7" cy="486.5" r="1.1" fill="#e9e9e9"/>
<circle cx="656.6" cy="500.8" r="1.1" fill="#e9e9e9"/>
<rect x="0" y="-6.2" width="70" height="12.5" fill="url(#g-shade)" transform="translate(660.8,603) rotate(-89.79)"/>
<rect x="0" y="-6.7" width="14" height="13.3" fill="url(#g-foot)" transform="translate(660.8,603) rotate(-89.79)"/>
<rect x="0" y="-6.8" width="40" height="13.6" fill="url(#g-post)" transform="translate(662.1,222) rotate(-89.71)"/>
<line x1="655.4" y1="182" x2="669.2" y2="182" stroke="#8a8a8a" stroke-width="0.9" stroke-linecap="butt"/>
<line x1="655.2" y1="222" x2="669" y2="222" stroke="#8a8a8a" stroke-width="0.9" stroke-linecap="butt"/>
<rect x="0" y="-6" width="368" height="12" fill="url(#g-post)" transform="translate(136.5,590) rotate(-89.77)"/>
<rect x="0" y="-6" width="19" height="12" fill="url(#g-mid)" transform="translate(137.9,241) rotate(-89.77)"/>
<circle cx="135" cy="232.4" r="0.9" fill="#e9e9e9"/>
<rect x="0" y="-6.5" width="21.3" height="13" fill="url(#g-post)" transform="translate(136.9,503.5) rotate(-89.77)"/>
<line x1="130.4" y1="482.2" x2="143.4" y2="482.2" stroke="#8e8e8e" stroke-width="0.8" stroke-linecap="butt"/>
<line x1="130.4" y1="503.5" x2="143.4" y2="503.5" stroke="#8e8e8e" stroke-width="0.8" stroke-linecap="butt"/>
<circle cx="132.6" cy="486.4" r="1.1" fill="#e9e9e9"/>
<circle cx="132.5" cy="499.3" r="1.1" fill="#e9e9e9"/>
<rect x="0" y="-6" width="70" height="12" fill="url(#g-shade)" transform="translate(136.5,590) rotate(-89.77)"/>
<rect x="0" y="-6.4" width="14" height="12.8" fill="url(#g-foot)" transform="translate(136.5,590) rotate(-89.77)"/>
<rect x="0" y="-6.2" width="411" height="12.5" fill="url(#g-post)" transform="translate(866,603) rotate(-90)"/>
<rect x="0" y="-6.2" width="24" height="12.5" fill="url(#g-mid)" transform="translate(866,216) rotate(-90)"/>
<circle cx="862.9" cy="205.2" r="0.9" fill="#e9e9e9"/>
<rect x="0" y="-6.8" width="23.8" height="13.5" fill="url(#g-post)" transform="translate(866,506.4) rotate(-90)"/>
<line x1="859.2" y1="482.6" x2="872.8" y2="482.6" stroke="#8e8e8e" stroke-width="0.8" stroke-linecap="butt"/>
<line x1="859.2" y1="506.4" x2="872.8" y2="506.4" stroke="#8e8e8e" stroke-width="0.8" stroke-linecap="butt"/>
<circle cx="861.5" cy="487.3" r="1.1" fill="#e9e9e9"/>
<circle cx="861.5" cy="501.6" r="1.1" fill="#e9e9e9"/>
<rect x="0" y="-6.2" width="70" height="12.5" fill="url(#g-shade)" transform="translate(866,603) rotate(-90)"/>
<path d="M138,224 L138,214 Q138,206.5 153.5,199.3" fill="none" stroke="#565656" stroke-width="12" stroke-linecap="butt" stroke-linejoin="round"/>
<path d="M138,224 L138,214 Q138,206.5 153.5,199.3" fill="none" stroke="#7c7c7c" stroke-width="7.7" stroke-linecap="butt" stroke-linejoin="round" transform="translate(-0.6,-0.5)"/>
<path d="M138,224 L138,214 Q138,206.5 153.5,199.3" fill="none" stroke="#acacac" stroke-width="3.2" stroke-linecap="butt" stroke-linejoin="round" transform="translate(-1.2,-1)"/>
<path d="M827.7,160.4 L854.5,169.2 Q866,174 866,184 L866,194" fill="none" stroke="#686868" stroke-width="13.5" stroke-linecap="butt" stroke-linejoin="round"/>
<path d="M827.7,160.4 L854.5,169.2 Q866,174 866,184 L866,194" fill="none" stroke="#979797" stroke-width="8.6" stroke-linecap="butt" stroke-linejoin="round" transform="translate(0.4,-0.6)"/>
<path d="M827.7,160.4 L854.5,169.2 Q866,174 866,184 L866,194" fill="none" stroke="#c6c6c6" stroke-width="3.6" stroke-linecap="butt" stroke-linejoin="round" transform="translate(0.8,-1.2)"/>
<ellipse cx="134" cy="592.5" rx="18" ry="1.7" fill="#585858"/>
<ellipse cx="310" cy="597" rx="21" ry="1.7" fill="#585858"/>
<ellipse cx="660" cy="605.5" rx="19" ry="1.7" fill="#585858"/>
<ellipse cx="866" cy="606" rx="16" ry="1.7" fill="#585858"/>
<ellipse cx="549" cy="556" rx="14" ry="1.7" fill="#585858"/>
<ellipse cx="972" cy="588" rx="13" ry="1.7" fill="#585858"/>
<ellipse cx="1060" cy="577" rx="12" ry="1.7" fill="#585858"/>
<ellipse cx="1132" cy="567" rx="14" ry="1.7" fill="#585858"/>
<ellipse cx="1291" cy="541" rx="9" ry="1.7" fill="#585858"/>
<ellipse cx="926" cy="538" rx="10" ry="1.7" fill="#585858"/>
<ellipse cx="1159" cy="541" rx="9" ry="1.7" fill="#585858"/>
<ellipse cx="434" cy="562" rx="10" ry="1.7" fill="#585858"/>
<ellipse cx="1194" cy="553.5" rx="8" ry="1.7" fill="#585858"/>
<ellipse cx="1246" cy="546.5" rx="8" ry="1.7" fill="#585858"/>
<ellipse cx="299" cy="573" rx="9" ry="1.7" fill="#585858"/>
<ellipse cx="647" cy="544" rx="8" ry="1.7" fill="#585858"/>
<ellipse cx="733" cy="538" rx="8" ry="1.7" fill="#585858"/>
<ellipse cx="807" cy="535" rx="7" ry="1.7" fill="#585858"/>
</g>
<g id="annotations" opacity="0.999">
<polygon points="60.6,39.4 53.1,54.9 68.1,54.9" fill="#444444"/>
<line x1="60.6" y1="53.9" x2="60.6" y2="300" stroke="#444444" stroke-width="4.9"/>
<polygon points="60.6,595 53.1,580 68.1,580" fill="#444444"/>
<line x1="60.6" y1="340" x2="60.6" y2="581" stroke="#444444" stroke-width="4.9"/>
<polygon points="1347.5,283.5 1340,298.5 1355,298.5" fill="#444444"/>
<line x1="1347.5" y1="297.5" x2="1347.5" y2="393.7" stroke="#444444" stroke-width="4.8"/>
<polygon points="1347.5,543 1340,528 1355,528" fill="#444444"/>
<line x1="1347.5" y1="434" x2="1347.5" y2="529" stroke="#444444" stroke-width="4.8"/>
<polygon points="117.7,636.3 132.5,644.2 132.9,629.2" fill="#444444"/>
<line x1="131.7" y1="636.7" x2="440" y2="645" stroke="#444444" stroke-width="5"/>
<polygon points="855,657 839.8,664.1 840.2,649.1" fill="#444444"/>
<line x1="531.8" y1="648" x2="841" y2="656.6" stroke="#444444" stroke-width="5"/>
<polygon points="897.8,653.4 913.8,658.3 911.3,643.5" fill="#444444"/>
<line x1="911.6" y1="651" x2="1058.4" y2="626" stroke="#444444" stroke-width="5.5"/>
<polygon points="1306.8,578.3 1293.4,588.4 1290.7,573.6" fill="#444444"/>
<line x1="1147" y1="607.7" x2="1293" y2="580.8" stroke="#444444" stroke-width="5.5"/>
<polygon points="268.7,155 261.2,170 276.2,170" fill="#d10a0a"/>
<line x1="268.7" y1="169" x2="268.7" y2="356" stroke="#d10a0a" stroke-width="5"/>
<polygon points="268.7,592 261.2,577 276.2,577" fill="#d10a0a"/>
<line x1="268.7" y1="395" x2="268.7" y2="578" stroke="#d10a0a" stroke-width="5"/>
<polygon points="329,576 343.8,583.9 344.2,568.9" fill="#d10a0a"/>
<line x1="343" y1="576.3" x2="434" y2="578.5" stroke="#d10a0a" stroke-width="5"/>
<polygon points="630,584 614.8,591.1 615.2,576.1" fill="#d10a0a"/>
<line x1="525" y1="581" x2="616" y2="583.6" stroke="#d10a0a" stroke-width="5"/>
<rect x="11.8" y="300" width="98" height="40" rx="9" fill="#fff"/>
<text x="60.8" y="327.8" font-size="23.6" fill="#2b2b2b" text-anchor="middle">3,59 m</text>
<rect x="1302.5" y="393.7" width="91" height="39" rx="9" fill="#fff"/>
<text x="1348" y="421" font-size="23.4" fill="#2b2b2b" text-anchor="middle">2,5 m</text>
<rect x="450" y="624" width="72" height="40" rx="9" fill="#fff"/>
<text x="486" y="651.8" font-size="23.5" fill="#2b2b2b" text-anchor="middle">6 m</text>
<rect x="1058" y="593" width="86" height="40" rx="9" fill="#fff"/>
<text x="1101" y="620.8" font-size="23.5" fill="#2b2b2b" text-anchor="middle">36 m</text>
<rect x="226" y="356" width="86" height="38" rx="9" fill="#fff"/>
<text x="269" y="381.5" font-size="19.7" fill="#d10a0a" text-anchor="middle">2,92 m</text>
<rect x="435" y="562" width="88" height="34" rx="9" fill="#fff"/>
<text x="479" y="585.6" font-size="20" fill="#d10a0a" text-anchor="middle">2,77 m</text>
<circle cx="232" cy="164.5" r="17" fill="#2f2f2f"/>
<text x="232" y="171.2" font-size="19" fill="#fff" text-anchor="middle">1</text>
<circle cx="325.5" cy="123" r="17" fill="#2f2f2f"/>
<text x="325.5" y="129.7" font-size="19" fill="#fff" text-anchor="middle">2</text>
<circle cx="483.5" cy="92" r="17" fill="#2f2f2f"/>
<text x="483.5" y="98.7" font-size="19" fill="#fff" text-anchor="middle">3</text>
<circle cx="445.7" cy="203" r="17" fill="#2f2f2f"/>
<text x="445.7" y="209.7" font-size="19" fill="#fff" text-anchor="middle">8</text>
<circle cx="346" cy="348" r="17" fill="#2f2f2f"/>
<text x="346" y="354.7" font-size="19" fill="#fff" text-anchor="middle">9</text>
<circle cx="663" cy="427" r="17" fill="#2f2f2f"/>
<text x="663" y="433.7" font-size="19" fill="#fff" text-anchor="middle">5</text>
<circle cx="865" cy="476" r="17" fill="#2f2f2f"/>
<text x="865" y="482.7" font-size="19" fill="#fff" text-anchor="middle">4</text>
<circle cx="756" cy="602" r="17" fill="#2f2f2f"/>
<text x="756" y="608.7" font-size="19" fill="#fff" text-anchor="middle">6</text>
<circle cx="865" cy="604" r="17" fill="#2f2f2f"/>
<text x="865" y="610.7" font-size="19" fill="#fff" text-anchor="middle">7</text>
</g>
</svg>
</body></html>
